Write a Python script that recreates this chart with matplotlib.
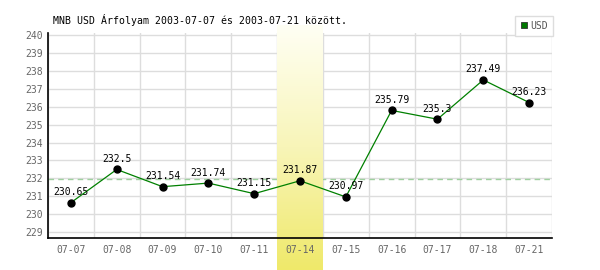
import matplotlib
matplotlib.use('Agg')
import matplotlib.pyplot as plt
import matplotlib.transforms as mtransforms
from matplotlib.colors import LinearSegmentedColormap
from matplotlib.lines import Line2D
import numpy as np

# data
dates = ['07-07', '07-08', '07-09', '07-10', '07-11', '07-14',
         '07-15', '07-16', '07-17', '07-18', '07-21']
usd = [230.65, 232.5, 231.54, 231.74, 231.15, 231.87,
       230.97, 235.79, 235.3, 237.49, 236.23]
ref_line = 231.95
highlight = '07-14'
title = 'MNB USD Árfolyam 2003-07-07 és 2003-07-21 között.'

FONT = 'DejaVu Sans Mono'
plt.rcParams['font.family'] = FONT

fig = plt.figure(figsize=(6, 2.7), dpi=100)
ax = fig.add_axes([0.08, 0.1185, 0.84, 0.759])

x = np.arange(len(dates))
ylim = (228.68, 240.1)
yticks = np.arange(229, 241, 1)

# grid drawn by hand so the highlight band can sit over it
# but under the tick labels
for yv in yticks:
    ax.axhline(yv, color='#dddddd', lw=1, zorder=0.5)
for xv in np.arange(-0.5, len(dates), 1.0):
    ax.axvline(xv, color='#dddddd', lw=1, zorder=0.5)

# average / reference line
ax.axhline(ref_line, color='#9fd09f', lw=1, ls=(0, (4, 3)), zorder=0.8)

# highlighted day band, gradient, spills over the tick labels
hi = dates.index(highlight)
cmap = LinearSegmentedColormap.from_list('band', ['#fffff4', '#f8f5b8', '#efe96a'])
grad = np.linspace(0, 1, 256).reshape(-1, 1)
trans = mtransforms.blended_transform_factory(ax.transData, fig.transFigure)
ax.imshow(grad, cmap=cmap, aspect='auto', origin='upper',
          extent=[hi - 0.5, hi + 0.5, 0.0, 1 - 25 / 270],
          transform=trans, zorder=1, clip_on=False)

# series
ax.plot(x, usd, color='#008000', lw=0.9, zorder=3)
ax.plot(x, usd, 'o', color='black', ms=5, zorder=4)
for xi, v in zip(x, usd):
    ax.annotate('%g' % v, (xi, v), xytext=(0, 4), textcoords='offset points',
                ha='center', va='bottom', fontsize=7, color='black', zorder=5)

ax.set_xlim(-0.5, len(dates) - 0.5)
ax.set_ylim(*ylim)
ax.set_xticks(x)
ax.set_xticklabels(dates)
ax.set_yticks(yticks)

for s in ['top', 'right']:
    ax.spines[s].set_visible(False)
for s in ['left', 'bottom']:
    ax.spines[s].set_color('black')
    ax.spines[s].set_linewidth(1.2)

ax.tick_params(axis='both', which='both', length=0, labelsize=7,
               labelcolor='#666666')
ax.tick_params(axis='x', pad=5)
ax.tick_params(axis='y', pad=4)

fig.text(53 / 600, 1 - 20 / 270, title, fontsize=7.1, color='black',
         ha='left', va='center')

handle = Line2D([], [], ls='none', marker='s', ms=5, mfc='#007700',
                mec='#333333', mew=0.6)
leg = fig.legend([handle], ['USD'], loc='upper right',
                 bbox_to_anchor=(553 / 600, 1 - 16 / 270), frameon=True,
                 fancybox=False, edgecolor='#dddddd', framealpha=1,
                 fontsize=7, handlelength=0.8, handletextpad=0.3,
                 borderpad=0.5, borderaxespad=0)
leg.get_frame().set_linewidth(1)
for t in leg.get_texts():
    t.set_color('#555555')

fig.savefig('out.png', dpi=100)
